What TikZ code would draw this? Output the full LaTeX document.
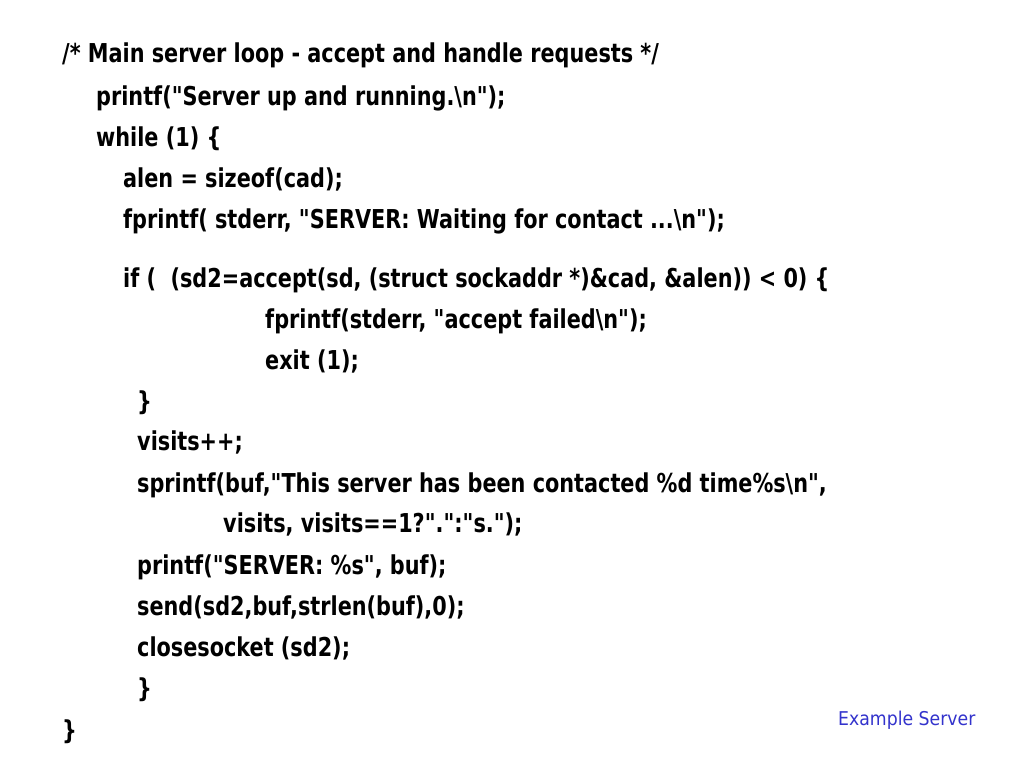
\documentclass[tikz,border=0pt]{standalone}
\usepackage{fontspec}
\setmainfont{DejaVu Sans}
\newfontfamily\codefont[FakeStretch=0.8]{DejaVu Sans Bold}
\newfontfamily\notefont[FakeStretch=0.91]{DejaVu Sans}
\definecolor{noteblue}{HTML}{3333CC}
\newcommand{\bs}{\textbackslash{}}
\begin{document}
\begin{tikzpicture}[x=1pt,y=-1pt,
  code/.style={anchor=base west,inner sep=0pt,font=\codefont\fontsize{26}{30}\selectfont},
  note/.style={anchor=base west,inner sep=0pt,text=noteblue,font=\notefont\fontsize{19}{22}\selectfont}]
\useasboundingbox[fill=white] (0,0) rectangle (1024,768);
\node[code] (l1) at (62,63) {/* Main server loop - accept and handle requests */};
\node[code] (l2) at (96,105) {printf("Server up and running.\bs n");};
\node[code] (l3) at (96,146) {while (1) \{};
\node[code] (l4) at (123,187) {alen = sizeof(cad);};
\node[code] (l5) at (123,228) {fprintf( stderr, "SERVER: Waiting for contact ...\bs n");};
\node[code] (l6) at (123,287) {if (\ \ (sd2=accept(sd, (struct sockaddr *)\&cad, \&alen)) < 0) \{};
\node[code] (l7) at (265,328) {fprintf(stderr, "accept failed\bs n");};
\node[code] (l8) at (265,369) {exit (1);};
\node[code] (l9) at (137,410) {\}};
\node[code] (l10) at (137,450) {visits++;};
\node[code] (l11) at (137,492) {sprintf(buf,"This server has been contacted \%d time\%s\bs n",};
\node[code] (l12) at (223,532) {visits, visits==1?".":"s.");};
\node[code] (l13) at (137,574) {printf("SERVER: \%s", buf);};
\node[code] (l14) at (137,615) {send(sd2,buf,strlen(buf),0);};
\node[code] (l15) at (137,656) {closesocket (sd2);};
\node[code] (l16) at (137,697) {\}};
\node[code] (l17) at (62,739) {\}};
\node[note] (ex) at (838,725) {Example Server};
\end{tikzpicture}
\end{document}
